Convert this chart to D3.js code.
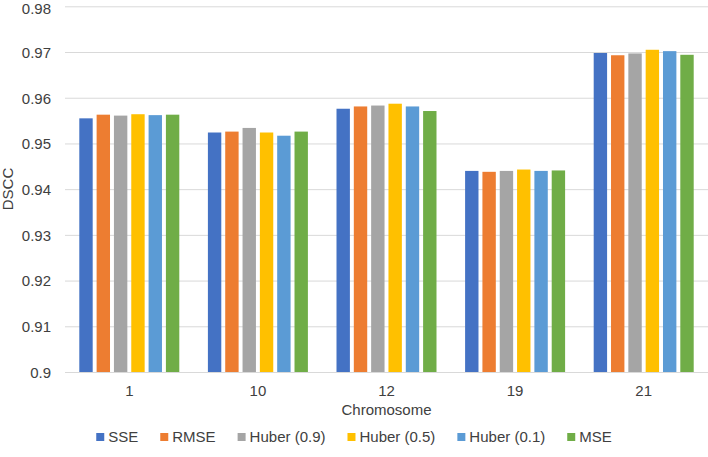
<!DOCTYPE html>
<html>
<head>
<meta charset="utf-8">
<script src="https://cdn.jsdelivr.net/npm/d3@7"></script>
<style>
  html, body { margin: 0; padding: 0; background: #fff; }
  svg { display: block; font-family: "Liberation Sans", Arial, Helvetica, sans-serif; }
</style>
</head>
<body>
<svg id="chart" width="708" height="457"></svg>
<script>
const categories = ["1", "10", "12", "19", "21"];
const seriesNames = ["SSE", "RMSE", "Huber (0.9)", "Huber (0.5)", "Huber (0.1)", "MSE"];
const seriesColors = ["#4472C4", "#ED7D31", "#A5A5A5", "#FFC000", "#5B9BD5", "#70AD47"];
const sseValues     = [0.9556, 0.9525, 0.9577, 0.9441, 0.9699];
const rmseValues    = [0.9564, 0.9527, 0.9582, 0.9439, 0.9694];
const huber09Values = [0.9562, 0.9535, 0.9584, 0.9441, 0.9698];
const huber05Values = [0.9565, 0.9525, 0.9588, 0.9444, 0.9706];
const huber01Values = [0.9563, 0.9518, 0.9582, 0.9441, 0.9703];
const mseValues     = [0.9564, 0.9527, 0.9572, 0.9442, 0.9695];
const yTicks = [0.9, 0.91, 0.92, 0.93, 0.94, 0.95, 0.96, 0.97, 0.98];
const yTickLabels = ["0.9", "0.91", "0.92", "0.93", "0.94", "0.95", "0.96", "0.97", "0.98"];

const allSeries = [sseValues, rmseValues, huber09Values, huber05Values, huber01Values, mseValues];

const svg = d3.select("#chart");
const plotLeft = 65, plotRight = 708, plotTop = 6.8, plotBottom = 372.5;
const fs = 15;
const textColor = "#404040";

const x0 = d3.scaleBand().domain(categories).range([plotLeft, plotRight]).paddingInner(0).paddingOuter(0);
const x1 = d3.scaleBand().domain(seriesNames)
  .range([14.3, x0.bandwidth() - 14.3]).paddingInner(0.227).paddingOuter(0);
const y = d3.scaleLinear().domain([0.9, 0.98]).range([plotBottom, plotTop]);

// gridlines
svg.append("g").selectAll("line").data(yTicks.slice(1)).join("line")
  .attr("x1", plotLeft).attr("x2", plotRight)
  .attr("y1", d => y(d)).attr("y2", d => y(d))
  .attr("stroke", "#d9d9d9").attr("stroke-width", 1);

// y axis labels
const yAxis = d3.axisLeft(y).tickValues(yTicks).tickSize(0).tickPadding(0)
  .tickFormat((d, i) => yTickLabels[i]);
const yg = svg.append("g").attr("transform", `translate(51,0)`).call(yAxis);
yg.select(".domain").remove();
yg.selectAll("text").attr("font-size", fs).attr("fill", textColor)
  .attr("font-family", "Liberation Sans, Arial, sans-serif");
// keep the topmost label inside the canvas
yg.selectAll(".tick").filter(d => d === 0.98).select("text").attr("dy", "0.47em");

// bars
const groups = svg.append("g").selectAll("g").data(categories).join("g")
  .attr("transform", d => `translate(${x0(d)},0)`);
groups.selectAll("rect")
  .data((c, ci) => seriesNames.map((s, si) => ({ s, si, v: allSeries[si][ci] })))
  .join("rect")
  .attr("x", d => x1(d.s))
  .attr("width", x1.bandwidth())
  .attr("y", d => y(d.v))
  .attr("height", d => y(0.9) - y(d.v))
  .attr("fill", d => seriesColors[d.si]);

// x axis line
svg.append("line").attr("x1", plotLeft).attr("x2", plotRight)
  .attr("y1", y(0.9)).attr("y2", y(0.9))
  .attr("stroke", "#d9d9d9").attr("stroke-width", 1);

// x labels
const xAxis = d3.axisBottom(x0).tickSize(0).tickPadding(0);
const xg = svg.append("g").attr("transform", `translate(0,${plotBottom + 13})`).call(xAxis);
xg.select(".domain").remove();
xg.selectAll("text").attr("font-size", fs).attr("fill", textColor)
  .attr("font-family", "Liberation Sans, Arial, sans-serif");

// axis titles
svg.append("text").attr("x", (plotLeft + plotRight) / 2).attr("y", 415)
  .attr("text-anchor", "middle").attr("font-size", fs).attr("fill", textColor)
  .text("Chromosome");
svg.append("text").attr("transform", "translate(13,189) rotate(-90)")
  .attr("text-anchor", "middle").attr("font-size", fs).attr("fill", textColor)
  .text("DSCC");

// legend
const legend = svg.append("g");
const items = legend.selectAll("g").data(seriesNames).join("g");
items.append("rect").attr("width", 8).attr("height", 8).attr("y", -4)
  .attr("fill", (d, i) => seriesColors[i]);
items.append("text").attr("x", 12).attr("dy", "0.35em")
  .attr("font-size", fs).attr("fill", textColor).text(d => d);
let xpos = 0;
const gap = 22;
items.each(function() {
  const g = d3.select(this);
  g.attr("transform", `translate(${xpos},0)`);
  xpos += this.getBBox().width + gap;
});
const totalW = xpos - gap;
legend.attr("transform", `translate(${(708 - totalW) / 2},437)`);
</script>
</body>
</html>
